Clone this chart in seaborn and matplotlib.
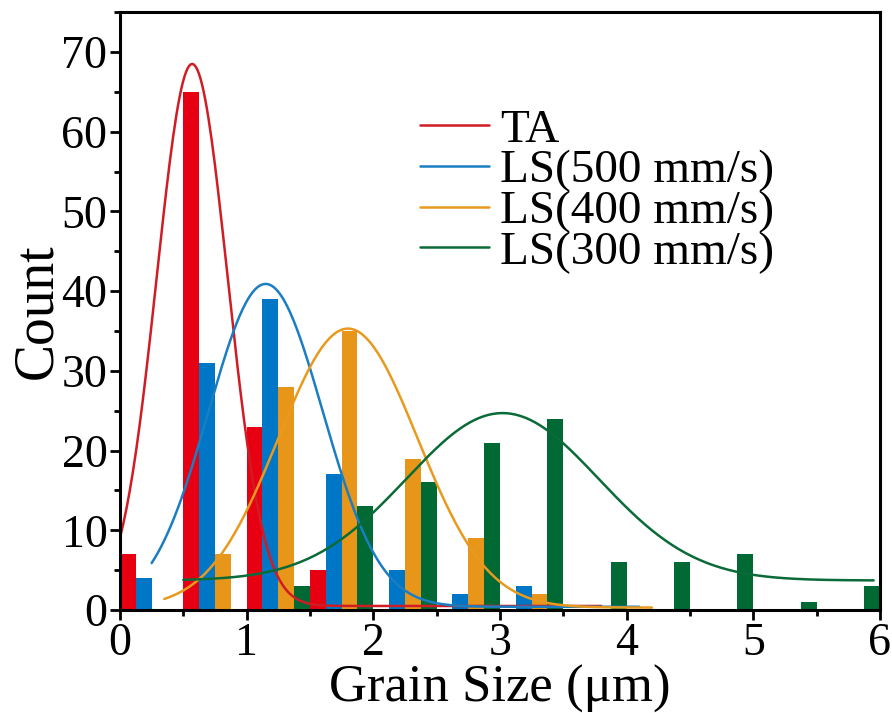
import numpy as np
import pandas as pd
import matplotlib
matplotlib.use('Agg')
import matplotlib.pyplot as plt
from matplotlib.ticker import MultipleLocator
import seaborn as sns

# histogram bins (grain size, um)
bin_edges = [0.0, 0.5, 1.0, 1.5, 2.0, 2.5, 3.0, 3.5, 4.0, 4.5, 5.0, 5.5, 6.0]
bin_mids = [0.25, 0.75, 1.25, 1.75, 2.25, 2.75, 3.25, 3.75, 4.25, 4.75, 5.25, 5.75]

series = ['TA', 'LS(500 mm/s)', 'LS(400 mm/s)', 'LS(300 mm/s)']
ta_counts = [7, 65, 23, 5, 0, 0, 0, 0, 0, 0, 0, 0]
ls500_counts = [4, 31, 39, 17, 5, 2, 3, 0, 0, 0, 0, 0]
ls400_counts = [0, 7, 28, 35, 19, 9, 2, 0, 0, 0, 0, 0]
ls300_counts = [0, 0, 3, 13, 16, 21, 24, 6, 6, 7, 1, 3]

# gaussian fits: centre, sigma, height, offset, x range
fit_center = [0.57, 1.15, 1.80, 3.02]
fit_sigma = [0.28, 0.45, 0.55, 0.76]
fit_height = [68.0, 40.5, 35.0, 21.0]
fit_offset = [0.5, 0.4, 0.3, 3.7]
fit_start = [0.0, 0.25, 0.35, 0.5]
fit_end = [3.8, 4.1, 4.2, 5.95]

bar_colors = ['#E60012', '#0077C6', '#E8961A', '#006934']
line_colors = ['#D01C25', '#1B7DC2', '#E89A1E', '#0B6B38']

df = pd.DataFrame({
    'size': bin_mids * 4,
    'count': ta_counts + ls500_counts + ls400_counts + ls300_counts,
    'sample': [s for s in series for _ in bin_mids],
})

sns.set_style('white')
plt.rcParams['font.family'] = ['Liberation Serif', 'DejaVu Serif']
plt.rcParams['text.color'] = 'black'
plt.rcParams['axes.labelcolor'] = 'black'
plt.rcParams['xtick.color'] = 'black'
plt.rcParams['ytick.color'] = 'black'

fig = plt.figure(figsize=(8.92, 7.13), dpi=100)
ax = fig.add_axes([0.1345, 0.1445, 0.852, 0.8385])

sns.histplot(data=df, x='size', weights='count', hue='sample', hue_order=series,
             bins=bin_edges, multiple='dodge', shrink=1, palette=bar_colors,
             alpha=1, linewidth=0, legend=False, ax=ax)

for i, name in enumerate(series):
    xs = np.linspace(fit_start[i], fit_end[i], 300)
    ys = fit_offset[i] + fit_height[i] * np.exp(-(xs - fit_center[i]) ** 2 / (2 * fit_sigma[i] ** 2))
    ax.plot(xs, ys, color=line_colors[i], lw=1.8, label=name)

ax.set_xlim(0, 6)
ax.set_ylim(0, 75)
ax.xaxis.set_major_locator(MultipleLocator(1))
ax.xaxis.set_minor_locator(MultipleLocator(0.5))
ax.yaxis.set_major_locator(MultipleLocator(10))
ax.yaxis.set_minor_locator(MultipleLocator(5))
ax.tick_params(which='major', direction='out', length=7, width=2, labelsize=33,
               bottom=True, left=True, top=False, right=False, pad=2)
ax.tick_params(which='minor', direction='out', length=4, width=2,
               bottom=True, left=True, top=False, right=False)
for sp in ax.spines.values():
    sp.set_linewidth(2.2)
    sp.set_color('black')

ax.set_xlabel('Grain Size (μm)', fontsize=38, labelpad=0)
ax.set_ylabel('Count', fontsize=40, labelpad=-1)

ax.legend(loc='upper left', bbox_to_anchor=(0.37, 0.87), frameon=False,
          fontsize=34, handlelength=1.45, handletextpad=0.25, labelspacing=-0.05,
          borderaxespad=0)

fig.savefig('out.png', dpi=100)
